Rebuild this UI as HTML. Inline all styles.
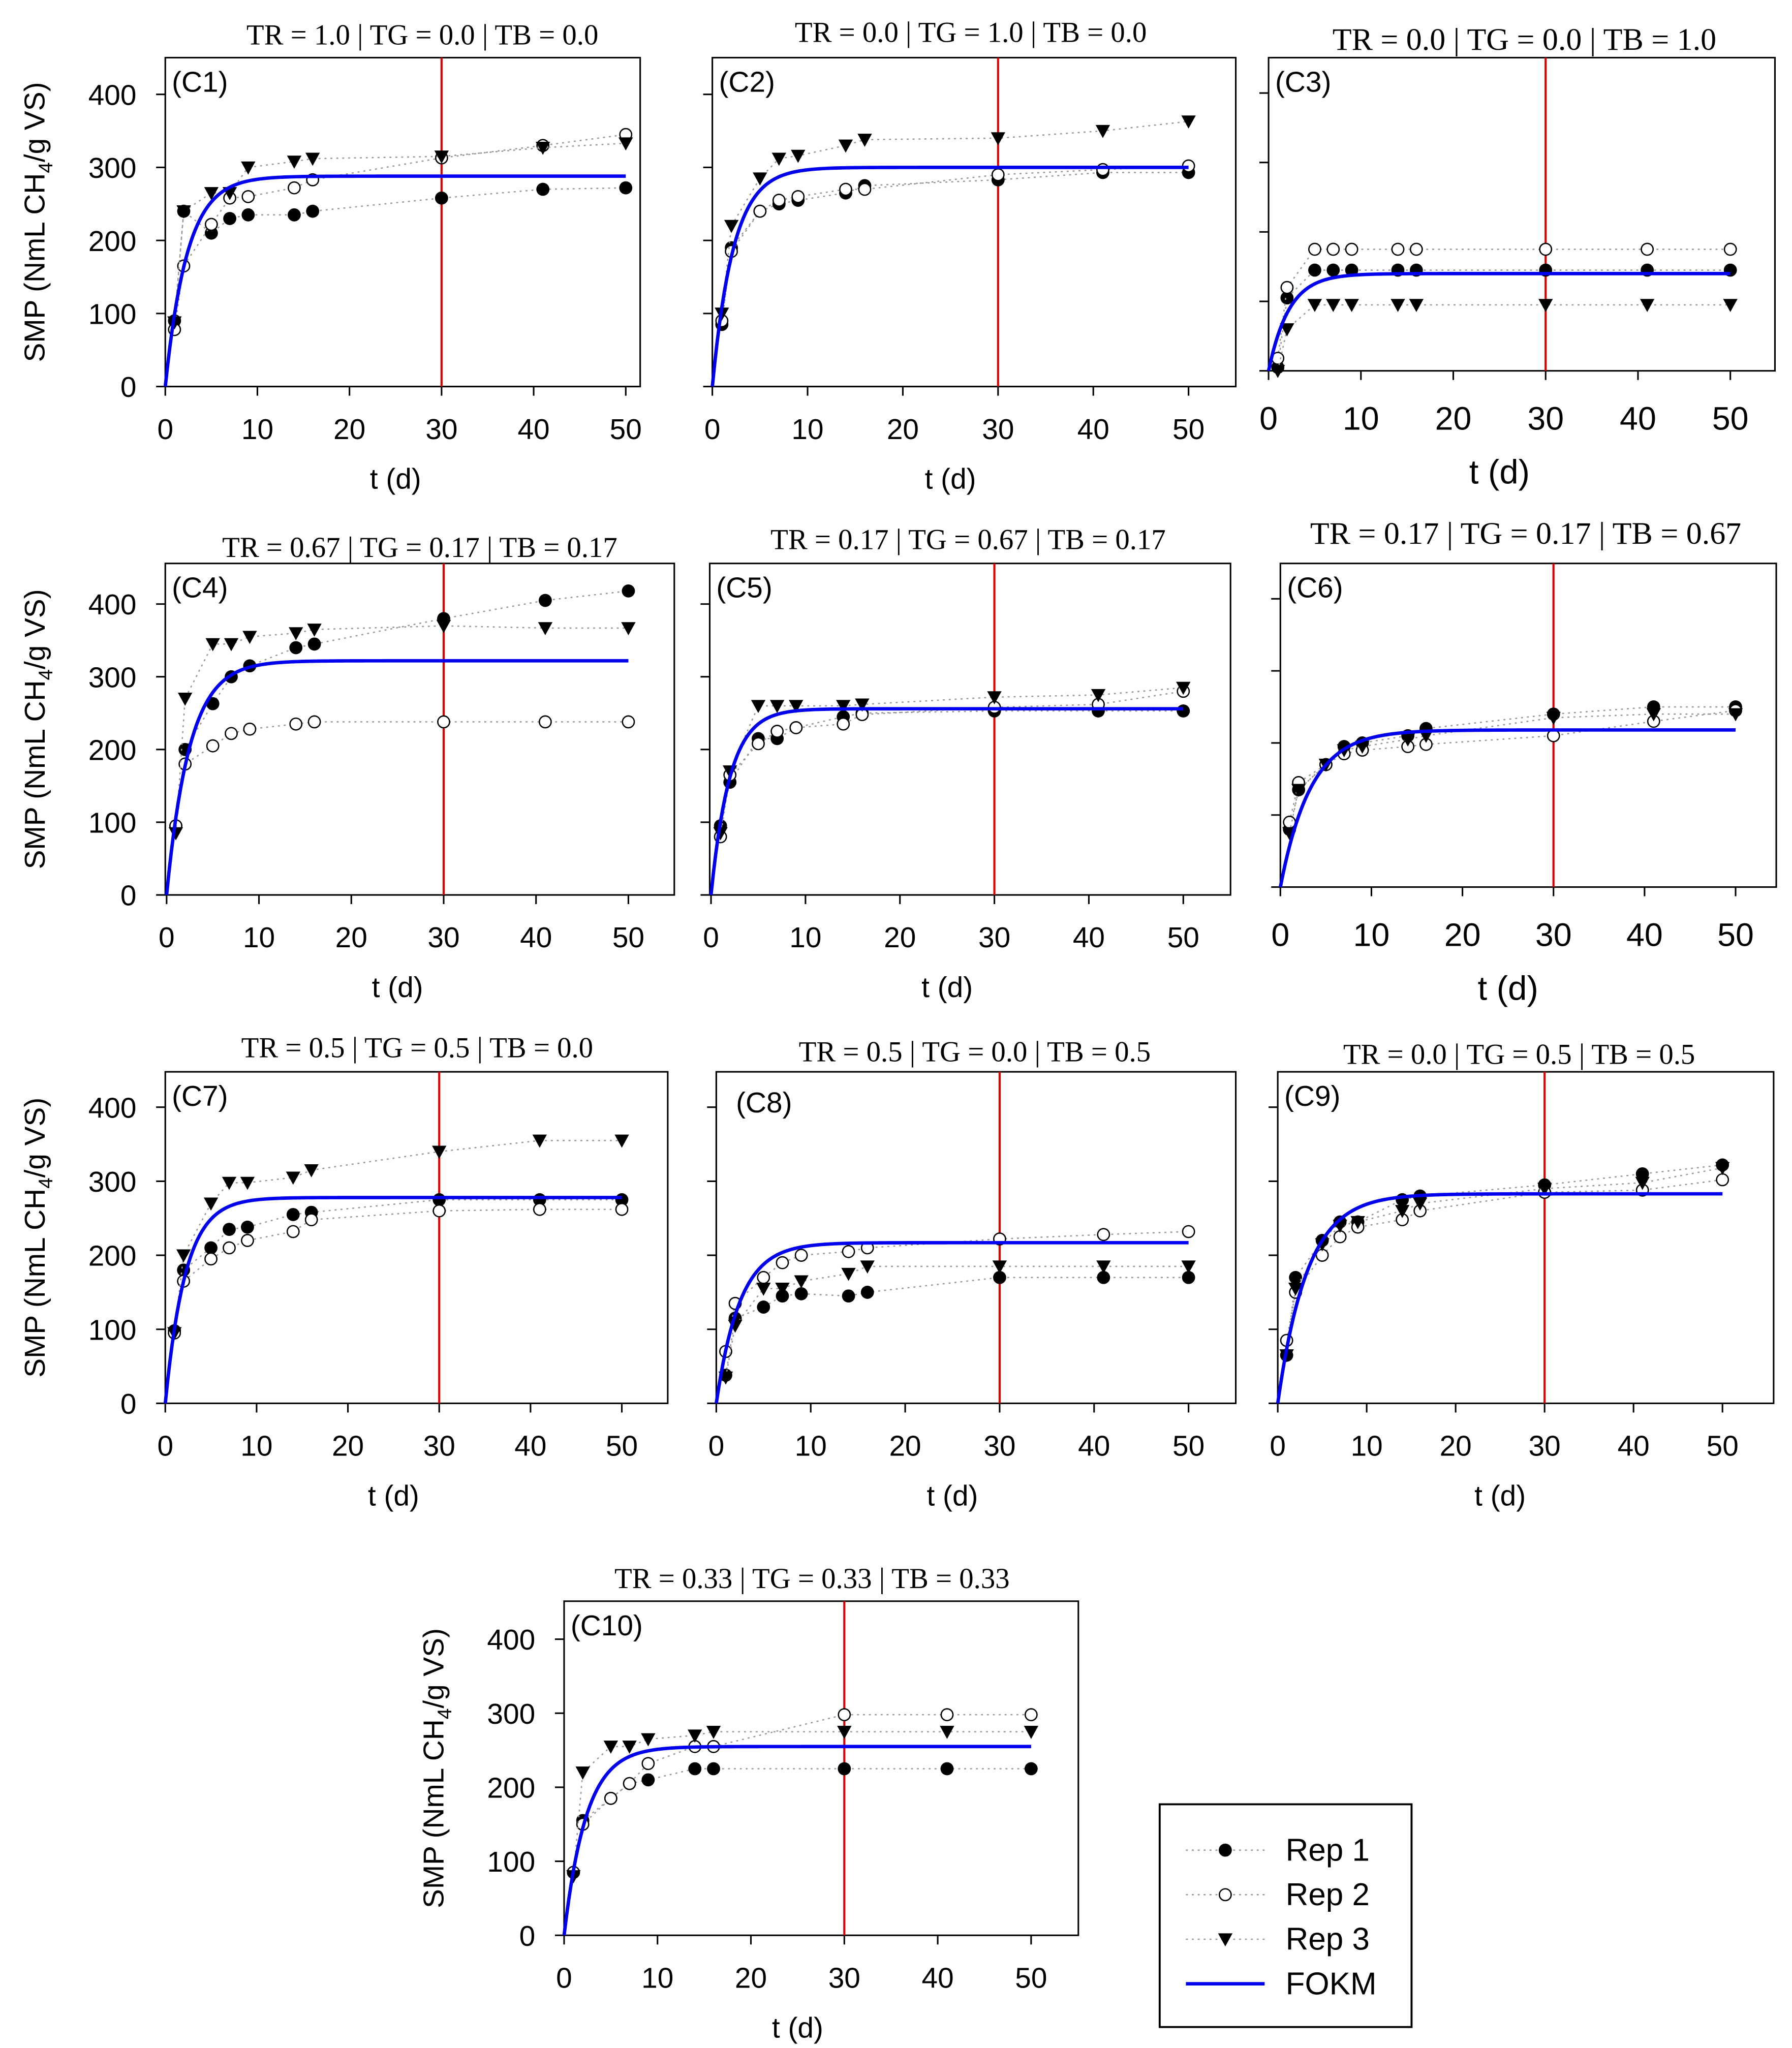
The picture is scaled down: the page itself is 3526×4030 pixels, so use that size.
<!DOCTYPE html>
<html><head><meta charset="utf-8"><style>
html,body{margin:0;padding:0;background:#fff;}
svg{display:block;}
</style></head><body>
<svg id="fig" width="3526" height="4030" viewBox="0 0 1366 1563" preserveAspectRatio="none" xmlns="http://www.w3.org/2000/svg"></svg>
<script>
const times = [1,2,5,7,9,14,16,30,41,50];
const panelLabels = ["(C1)","(C2)","(C3)","(C4)","(C5)","(C6)","(C7)","(C8)","(C9)","(C10)"];
const panelTitles = ["TR = 1.0 | TG = 0.0 | TB = 0.0","TR = 0.0 | TG = 1.0 | TB = 0.0","TR = 0.0 | TG = 0.0 | TB = 1.0",
"TR = 0.67 | TG = 0.17 | TB = 0.17","TR = 0.17 | TG = 0.67 | TB = 0.17","TR = 0.17 | TG = 0.17 | TB = 0.67",
"TR = 0.5 | TG = 0.5 | TB = 0.0","TR = 0.5 | TG = 0.0 | TB = 0.5","TR = 0.0 | TG = 0.5 | TB = 0.5","TR = 0.33 | TG = 0.33 | TB = 0.33"];
const rep1 = [
[90,240,210,230,235,235,240,258,270,272],
[85,190,240,250,255,265,275,283,293,293],
[5,105,145,145,145,145,145,145,145,145],
[95,200,263,300,315,340,345,380,405,418],
[95,155,215,215,230,245,250,253,253,253],
[80,135,170,195,200,210,220,240,250,250],
[98,180,210,235,238,255,258,275,275,275],
[38,115,130,145,148,145,150,170,170,170],
[65,170,220,245,245,275,280,295,310,322],
[85,155,185,205,210,225,225,225,225,225]];
const rep2 = [
[78,165,222,258,260,272,283,313,330,345],
[90,185,240,255,260,270,270,290,297,302],
[18,120,175,175,175,175,175,175,175,175],
[95,180,205,222,228,235,238,238,238,238],
[80,165,208,225,230,235,248,258,262,280],
[90,145,170,185,190,195,198,210,230,245],
[95,165,195,210,220,232,248,260,262,262],
[70,135,170,190,200,205,210,222,228,232],
[85,150,200,225,238,248,260,285,288,302],
[85,150,185,205,232,255,255,298,298,298]];
const rep3 = [
[88,240,265,265,300,308,312,315,327,333],
[100,220,285,312,316,330,338,340,350,363],
[0,60,95,95,95,95,95,95,95,95],
[85,270,345,345,355,360,365,370,367,367],
[85,170,260,260,260,260,262,272,275,285],
[75,135,170,190,195,205,210,235,240,240],
[95,200,270,298,298,305,315,340,355,355],
[35,105,155,155,165,175,185,185,185,185],
[65,155,215,240,245,260,270,290,298,318],
[80,220,255,255,265,270,275,275,275,275]];
const fokmB0 = [288,300,140,322,256,218,278,217,283,255];
const fokmK = [0.42,0.45,0.45,0.4,0.5,0.3,0.45,0.4,0.3,0.42];
const xTicks = [0,10,20,30,40,50];
const yTicks = [0,100,200,300,400];
const cutoffDay = 30;

const L = [
 {b:[126,488,44,295],x0:126,x50:477,y0:295,py:55.75,ylab:true,tx:322,ty:27,fs:22},
 {b:[543,942,44,295],x0:543,x50:906,y0:295,py:55.75,ylab:false,tx:740,ty:25,fs:22},
 {b:[967,1353,44,283],x0:967,x50:1319,y0:283,py:53,ylab:false,tx:1162,ty:31,fs:24},
 {b:[126,514,430,683],x0:127,x50:479,y0:683,py:55.5,ylab:true,tx:320,ty:418,fs:22},
 {b:[541,938,430,683],x0:542,x50:902,y0:683,py:55.5,ylab:false,tx:738,ty:412,fs:22},
 {b:[976,1354,430,677],x0:976,x50:1323,y0:677,py:55,ylab:false,tx:1163,ty:408,fs:24},
 {b:[126,509,818,1071],x0:126,x50:474,y0:1071,py:56.5,ylab:true,tx:318,ty:800,fs:22},
 {b:[546,942,818,1071],x0:546,x50:906,y0:1071,py:56.5,ylab:false,tx:743,ty:803,fs:22},
 {b:[974,1352,818,1071],x0:974,x50:1313,y0:1071,py:56.5,ylab:false,tx:1158,ty:805,fs:22},
 {b:[430,822,1222,1477],x0:430,x50:786,y0:1477,py:56.5,ylab:true,tx:619,ty:1205,fs:22}];

const svg = document.getElementById('fig');
const NS = 'http://www.w3.org/2000/svg';
function mk(tag, attrs, parent){const e=document.createElementNS(NS,tag);for(const k in attrs)e.setAttribute(k,attrs[k]);(parent||svg).appendChild(e);return e;}

L.forEach((p,i)=>{
  const g = mk('g',{});
  
  
  const xs = t => p.x0 + (p.x50-p.x0)*t/50;
  const ys = v => p.y0 - p.py*v/100;
  const big = (i===2||i===5);
  const tfs = big?25:22;
  const r = mk('rect',{x:p.b[0],y:p.b[2],width:p.b[1]-p.b[0],height:p.b[3]-p.b[2],fill:'none',stroke:'#000','stroke-width':1.2},g);
  
  
  const tt = mk('text',{x:p.tx,y:p.ty+7,'font-family':'Liberation Serif, serif','font-size':p.fs,'text-anchor':'middle'},g);
  tt.textContent = panelTitles[i];
  
  
  const pl = mk('text',{x:p.b[0]+5+(i===7?10:0),y:p.b[2]+(i===7?31:26),'font-family':'Liberation Sans, sans-serif','font-size':22},g);
  pl.textContent = panelLabels[i];
  
  
  xTicks.forEach(t=>{
    mk('line',{x1:xs(t),x2:xs(t),y1:p.b[3],y2:p.b[3]+7,stroke:'#000','stroke-width':1.2},g);
    const tx = mk('text',{x:xs(t),y:p.b[3]+(big?45:40),'font-family':'Liberation Sans, sans-serif','font-size':tfs,'text-anchor':'middle'},g);
    tx.textContent = t;
    
    
  });
  const xl = mk('text',{x:(xs(0)+xs(50))/2,y:p.b[3]+(big?86:78),'font-family':'Liberation Sans, sans-serif','font-size':big?26:22,'text-anchor':'middle'},g);
  xl.textContent = 't (d)';
  
  
  yTicks.forEach(v=>{
    mk('line',{x1:p.b[0]-7,x2:p.b[0],y1:ys(v),y2:ys(v),stroke:'#000','stroke-width':1.2},g);
    if(p.ylab){
      const ty = mk('text',{x:p.b[0]-22,y:ys(v)+8,'font-family':'Liberation Sans, sans-serif','font-size':22,'text-anchor':'end'},g);
      ty.textContent = v;
      
      
    }
  });
  if(p.ylab){
    const cy=(p.b[2]+p.b[3])/2, cx=p.b[0]-92;
    const yt = mk('text',{x:cx,y:cy,transform:`rotate(-90 ${cx} ${cy})`,'font-family':'Liberation Sans, sans-serif','font-size':22,'text-anchor':'middle'},g);
    yt.innerHTML = 'SMP (NmL CH<tspan font-size="15" dy="6">4</tspan><tspan dy="-6">/g VS)</tspan>';
    
    
  }
  const cl = mk('line',{x1:xs(cutoffDay),x2:xs(cutoffDay),y1:p.b[2],y2:p.b[3],stroke:'#e00000','stroke-width':1.6},g);
  
  
  [rep1[i],rep2[i],rep3[i]].forEach((arr,si)=>{
    const pts = arr.map((v,j)=>[xs(times[j]),ys(v)]);
    const pth = mk('polyline',{points:pts.map(q=>q.join(',')).join(' '),fill:'none',stroke:'#999','stroke-width':1,'stroke-dasharray':'1.5,3'},g);
    
    
    pts.forEach(q=>{
      let m;
      if(si===0) m = mk('circle',{cx:q[0],cy:q[1],r:5,fill:'#000'},g);
      else if(si===1) m = mk('circle',{cx:q[0],cy:q[1],r:4.5,fill:'#fff',stroke:'#000','stroke-width':1},g);
      else m = mk('polygon',{points:`${q[0]-5.5},${q[1]-4.5} ${q[0]+5.5},${q[1]-4.5} ${q[0]},${q[1]+5.5}`,fill:'#000'},g);
      
      
    });
  });
  const cp=[];
  for(let t=0;t<=50;t+=0.25){cp.push(xs(t)+','+ys(fokmB0[i]*(1-Math.exp(-fokmK[i]*t))));}
  const fc = mk('polyline',{points:cp.join(' '),fill:'none',stroke:'#0000ee','stroke-width':2.6},g);
  
  
});

const lg = mk('g',{});


mk('rect',{x:884,y:1377,width:192,height:170,fill:'#fff',stroke:'#000','stroke-width':1.5},lg);
const legNames=['Rep 1','Rep 2','Rep 3','FOKM'];
legNames.forEach((n,k)=>{
  const y=1412+k*34;
  const it = mk('g',{},lg);
  
  
  if(k<3){
    mk('line',{x1:904,x2:964,y1:y,y2:y,stroke:'#999','stroke-width':1,'stroke-dasharray':'1.5,3'},it);
    if(k===0) mk('circle',{cx:934,cy:y,r:5,fill:'#000'},it);
    else if(k===1) mk('circle',{cx:934,cy:y,r:4.5,fill:'#fff',stroke:'#000'},it);
    else mk('polygon',{points:`928.5,${y-4.5} 939.5,${y-4.5} 934,${y+5.5}`,fill:'#000'},it);
  } else mk('line',{x1:904,x2:964,y1:y,y2:y,stroke:'#0000ee','stroke-width':2.6},it);
  const t=mk('text',{x:980,y:y+8,'font-family':'Liberation Sans, sans-serif','font-size':24},it);
  t.textContent=n;
});
</script>
</body></html>
